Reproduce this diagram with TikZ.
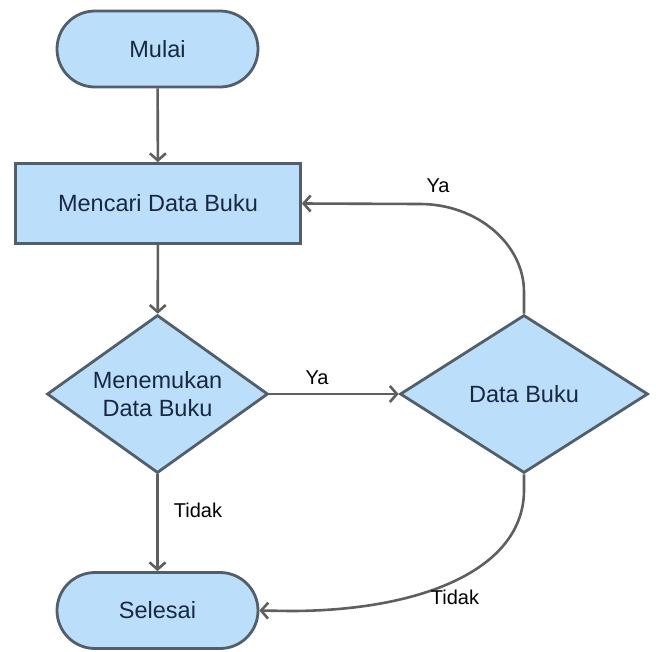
\documentclass[tikz,border=0pt]{standalone}
\usepackage{fontspec}
\setmainfont{Liberation Sans}
\usetikzlibrary{shapes.geometric,arrows.meta}
\definecolor{fillb}{RGB}{187,222,251}
\definecolor{strokeg}{RGB}{82,94,106}
\definecolor{linec}{RGB}{95,95,95}
\definecolor{txtc}{RGB}{25,40,65}
\begin{document}
\begin{tikzpicture}[x=1pt,y=-1pt,
  shapebase/.style={draw=strokeg, fill=fillb, line width=2.8pt, text=txtc,
    font=\fontsize{23.5}{28}\selectfont, inner sep=0pt, align=center},
  terminal/.style={shapebase, rectangle, rounded corners=38pt, minimum width=201pt, minimum height=76pt},
  process/.style={shapebase, rectangle, minimum width=285pt, minimum height=80pt},
  decision/.style={shapebase, diamond, aspect=1.45, minimum height=158pt},
  conn/.style={draw=linec, line width=2.6pt, -{Straight Barb[length=7pt,width=16pt]}},
  lbl/.style={font=\fontsize{20}{22}\selectfont, text=black, inner sep=0pt}]
\useasboundingbox (0,0) rectangle (656,651);
\fill[white] (0,0) rectangle (656,651);
\node[terminal] (mulai) at (157.5,49) {Mulai};
\node[process] (mencari) at (158,203.5) {Mencari Data Buku};
\node[decision, minimum width=221pt] (menemukan) at (157.5,394) {Menemukan\\Data Buku};
\node[decision, minimum width=248pt] (db) at (524,394) {Data Buku};
\node[terminal] (selesai) at (157.5,610.5) {Selesai};

\draw[conn] (mulai) -- (mencari);
\draw[conn] (mencari) -- (menemukan);
\draw[conn] (menemukan.east) -- (db.west);
\draw[conn] (menemukan.south) -- (selesai.north);
\draw[conn] (db.north) -- (524,292) .. controls (524,244) and (477,204) .. (420,204) -- (mencari.east);
\draw[conn] (db.south) -- (524,490) .. controls (524,570) and (420,611) .. (290,611) -- (selesai.east);

\node[lbl] (lya1) at (317,378) {Ya};
\node[lbl] (lya2) at (438,186) {Ya};
\node[lbl] (ltidak1) at (198,510) {Tidak};
\node[lbl] (ltidak2) at (455,597) {Tidak};
\end{tikzpicture}
\end{document}
